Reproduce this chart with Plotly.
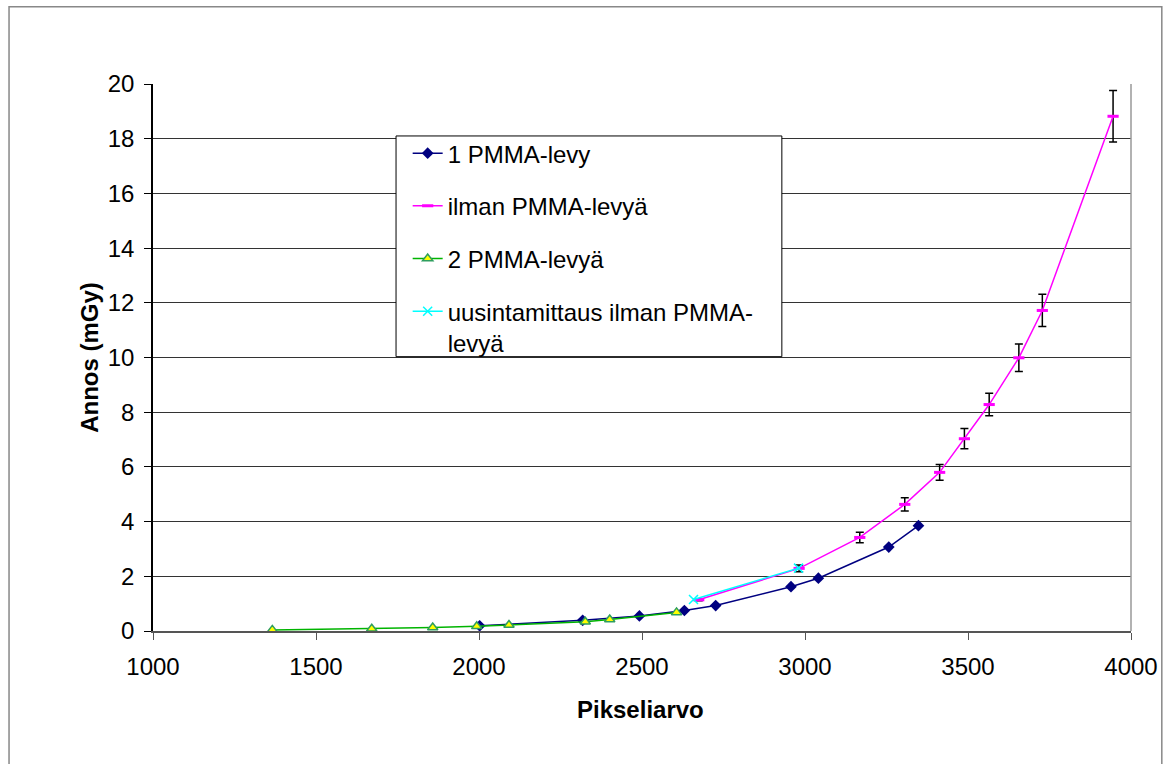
import plotly.graph_objects as go

# Pixel value vs dose for each PMMA setup
one_pmma_x = [2002, 2318, 2492, 2630, 2726, 2957, 3041, 3257, 3348]
one_pmma_y = [0.19, 0.39, 0.55, 0.75, 0.93, 1.62, 1.93, 3.07, 3.85]

no_pmma_x = [2674, 2982, 3168, 3306, 3413, 3489, 3565, 3656, 3728, 3945]
no_pmma_y = [1.14, 2.29, 3.42, 4.63, 5.80, 7.03, 8.28, 9.99, 11.72, 18.82]
no_pmma_err = [0.03, 0.12, 0.19, 0.24, 0.29, 0.37, 0.41, 0.50, 0.59, 0.94]

two_pmma_x = [1366, 1671, 1858, 1993, 2092, 2326, 2401, 2606]
two_pmma_y = [0.04, 0.08, 0.13, 0.17, 0.22, 0.34, 0.42, 0.68]

repeat_x = [2658, 2980]
repeat_y = [1.15, 2.30]

names = ["1 PMMA-levy", "ilman PMMA-levyä", "2 PMMA-levyä",
         "uusintamittaus ilman PMMA-<br>levyä"]

x_ticks = [1000, 1500, 2000, 2500, 3000, 3500, 4000]
y_ticks = [0, 2, 4, 6, 8, 10, 12, 14, 16, 18, 20]

FONT = "Arial, 'Liberation Sans', sans-serif"

fig = go.Figure()

fig.add_trace(go.Scatter(
    x=one_pmma_x, y=one_pmma_y, name=names[0], legendgroup="a",
    mode="lines+markers",
    line=dict(color="#000080", width=1.5),
    marker=dict(symbol="diamond", size=9, color="#000080"),
))
fig.add_trace(go.Scatter(
    x=no_pmma_x, y=no_pmma_y, name=names[1], legendgroup="b",
    mode="lines+markers",
    line=dict(color="#FF00FF", width=1.5),
    marker=dict(symbol="line-ew", size=8, color="#FF00FF",
                line=dict(color="#FF00FF", width=3)),
    error_y=dict(type="data", array=no_pmma_err, visible=True,
                 color="#000000", thickness=1.5, width=4),
))
fig.add_trace(go.Scatter(
    x=two_pmma_x, y=two_pmma_y, name=names[2], legendgroup="c",
    mode="lines+markers",
    line=dict(color="#00B400", width=1.5),
    marker=dict(symbol="triangle-up", size=9, color="#FFFF00",
                line=dict(color="#2E9E5E", width=1.5)),
))
fig.add_trace(go.Scatter(
    x=repeat_x, y=repeat_y, name=names[3], legendgroup="d",
    mode="lines+markers",
    line=dict(color="#00FFFF", width=1.5),
    marker=dict(symbol="x-thin", size=9, color="#00FFFF",
                line=dict(color="#00FFFF", width=1.5)),
))

fig.update_layout(
    width=1170, height=764,
    margin=dict(l=153, r=34, t=84, b=133),
    paper_bgcolor="white", plot_bgcolor="white",
    font=dict(family=FONT, size=24, color="black"),
    showlegend=True,
    legend=dict(
        x=0.2604, y=0.914, xanchor="left", yanchor="top",
        bgcolor="rgba(0,0,0,0)", borderwidth=0,
        font=dict(family=FONT, size=24, color="black"),
        traceorder="grouped", tracegroupgap=18.5, valign="top",
        itemwidth=30,
    ),
    xaxis=dict(
        range=[1000, 4000], tickvals=x_ticks, ticktext=[str(v) for v in x_ticks],
        showgrid=False, zeroline=False,
        showline=True, linecolor="#555555", linewidth=1.5,
        ticks="outside", ticklen=7, tickcolor="#555555",
        ticklabelstandoff=6,
        tickfont=dict(family=FONT, size=24, color="black"),
    ),
    yaxis=dict(
        range=[0, 20], tickvals=y_ticks, ticktext=[str(v) for v in y_ticks],
        showgrid=True, gridcolor="#333333", gridwidth=1, zeroline=False,
        showline=True, linecolor="black", linewidth=1.5,
        ticks="outside", ticklen=7, tickcolor="black",
        ticklabelstandoff=5,
        tickfont=dict(family=FONT, size=24, color="black"),
    ),
    annotations=[
        dict(text="<b>Pikseliarvo</b>", xref="paper", yref="paper",
             x=0.498, y=-0.1426, xanchor="center", yanchor="middle",
             showarrow=False, font=dict(family=FONT, size=24, color="black")),
        dict(text="<b>Annos (mGy)</b>", xref="paper", yref="paper",
             x=-0.0651, y=0.5, xanchor="center", yanchor="middle",
             textangle=-90, showarrow=False,
             font=dict(family=FONT, size=24, color="black")),
    ],
    shapes=[
        # legend box
        dict(type="rect", xref="paper", yref="paper",
             x0=0.2485, x1=0.643, y0=0.5015, y1=0.905,
             line=dict(color="black", width=1), fillcolor="white",
             layer="above"),
        # right edge of the plot area
        dict(type="line", xref="paper", yref="paper",
             x0=1, x1=1, y0=0, y1=1,
             line=dict(color="#999999", width=1.5)),
        # outer chart frame
        dict(type="rect", xref="paper", yref="paper",
             x0=-0.1472, x1=1.0315, y0=-0.31, y1=1.1413,
             line=dict(color="#888888", width=1.5), fillcolor="rgba(0,0,0,0)",
             layer="above"),
    ],
)

fig.write_html("out.html")
